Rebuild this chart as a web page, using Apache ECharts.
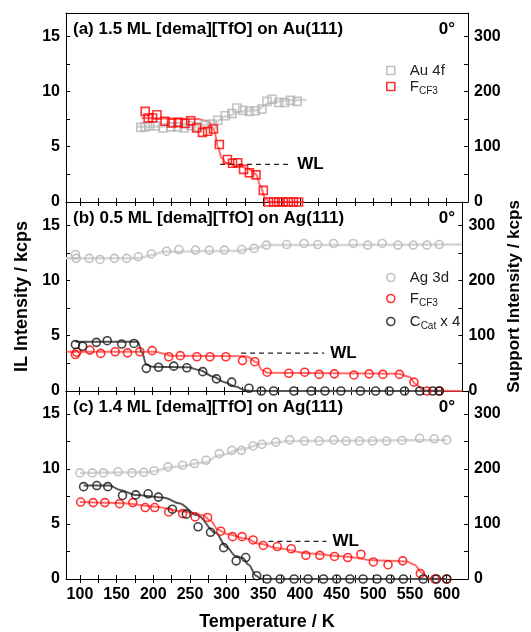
<!DOCTYPE html>
<html>
<head>
<meta charset="utf-8">
<script src="https://cdn.jsdelivr.net/npm/echarts@6/dist/echarts.min.js"></script>
<style>
html, body { margin: 0; padding: 0; background: #fff; }
#chart { width: 531px; height: 632px; }
</style>
</head>
<body>
<div id="chart"></div>
<script>
// ticks
var xTicks = [100, 125, 150, 175, 200, 225, 250, 275, 300, 325, 350, 375, 400, 425, 450, 475, 500, 525, 550, 575, 600];
var xLabels = [100, 150, 200, 250, 300, 350, 400, 450, 500, 550, 600];
var yTicks = [0, 2.5, 5, 7.5, 10, 12.5, 15];
var yLabels = [0, 5, 10, 15];
var rTicks = [0, 50, 100, 150, 200, 250, 300];
var rLabels = [0, 100, 200, 300];

// (a) 1.5 ML on Au(111)
var aAuT = [183, 189, 195, 203, 213, 224, 233, 242, 251, 260, 271, 280, 288, 298, 307, 314, 322, 331, 339, 348, 355, 362, 371, 379, 387, 396];
var aAuI = [135, 136, 138, 138, 134, 136, 136, 134, 138, 136, 140, 141, 148, 156, 160, 170, 166, 164, 165, 168, 182, 186, 180, 180, 184, 182];
var aAuFitT = [178, 260, 280, 300, 320, 340, 360, 380, 409];
var aAuFitI = [136, 137, 142, 155, 164, 166, 180, 184, 185];
var aFT = [189, 193, 199, 205, 216, 225, 234, 243, 251, 259, 267, 274, 282, 290, 301, 308, 315, 323, 331, 340, 350, 357, 364, 371, 377, 384, 391, 398];
var aFI = [8.2, 7.6, 7.6, 7.9, 7.3, 7.15, 7.2, 7.1, 7.35, 6.7, 6.3, 6.4, 6.6, 5.2, 3.85, 3.5, 3.55, 2.95, 2.65, 2.45, 1.05, 0, 0, 0, 0, 0, 0, 0];
var aFFitT = [184, 220, 260, 275, 283, 288, 293, 300, 315, 330, 340, 346, 352, 358, 406];
var aFFitI = [7.6, 7.55, 7.5, 7.3, 6.5, 5.0, 4.0, 3.5, 3.3, 3.0, 2.5, 1.5, 0.4, 0, 0];
var aWLT = [291, 388];
var aWLI = [3.4, 3.4];

// (b) 0.5 ML on Ag(111)
var bAgT = [94, 95, 113, 128, 148, 165, 181, 199, 220, 237, 260, 279, 300, 324, 341, 358, 386, 410, 429, 451, 478, 498, 518, 540, 561, 580, 597];
var bAgI = [247, 240, 240, 238, 240, 240, 243, 248, 253, 256, 255, 255, 255, 256, 258, 264, 265, 267, 265, 267, 267, 264, 267, 264, 264, 264, 265];
var bAgFitT = [81, 180, 200, 215, 320, 340, 360, 628];
var bAgFitI = [240, 240, 246, 252, 254, 258, 264, 265];
var bFT = [94, 96, 114, 129, 149, 166, 183, 200, 223, 239, 262, 280, 302, 325, 342, 359, 389, 411, 431, 452, 479, 500, 519, 542, 562, 580, 597];
var bFI = [3.3, 3.5, 3.7, 3.4, 3.55, 3.45, 3.55, 3.65, 3.1, 3.2, 3.1, 3.1, 3.1, 2.75, 2.65, 1.7, 1.6, 1.7, 1.5, 1.55, 1.45, 1.55, 1.5, 1.5, 0.8, 0, 0];
var bFFitT = [81, 205, 215, 225, 330, 345, 352, 360, 540, 555, 565, 575, 628];
var bFFitI = [3.55, 3.55, 3.4, 3.2, 3.15, 2.6, 1.9, 1.65, 1.55, 1.3, 0.6, 0.05, 0];
var bCT = [94, 104, 123, 138, 158, 175, 192, 209, 230, 248, 270, 289, 310, 334, 351, 368, 396, 420, 439, 461, 488, 509, 528, 549, 570, 588, 597];
var bCI = [4.2, 4.05, 4.4, 4.55, 4.25, 4.3, 2.05, 2.15, 2.25, 2.1, 1.75, 1.1, 0.8, 0.25, 0, 0, 0, 0, 0, 0, 0, 0, 0, 0, 0, 0, 0];
var bCFitT = [94, 180, 186, 192, 200, 250, 265, 285, 300, 315, 330, 340, 600];
var bCFitI = [4.45, 4.45, 3.5, 2.4, 2.2, 2.15, 1.9, 1.3, 0.8, 0.4, 0.05, 0, 0];
var bWLT = [323, 438];
var bWLI = [3.42, 3.42];

// (c) 1.4 ML on Ag(111)
var cAgT = [100, 117, 132, 152, 171, 187, 201, 220, 240, 256, 272, 290, 307, 320, 336, 348, 367, 386, 406, 426, 446, 463, 481, 499, 518, 539, 563, 583, 600];
var cAgI = [193, 193, 193, 195, 193, 194, 197, 204, 207, 210, 216, 228, 234, 234, 242, 245, 249, 253, 251, 251, 253, 251, 251, 251, 251, 252, 256, 255, 253];
var cAgFitT = [100, 190, 230, 270, 290, 320, 350, 390, 600];
var cAgFitI = [193, 194, 204, 212, 225, 236, 246, 251, 253];
var cCT = [105, 123, 138, 158, 176, 193, 207, 226, 245, 261, 278, 296, 313, 326, 341, 355, 373, 392, 411, 432, 450, 468, 486, 505, 523, 541, 568, 586, 600];
var cCI = [8.4, 8.5, 8.4, 7.6, 7.65, 7.75, 7.45, 6.35, 5.9, 4.75, 4.25, 2.85, 1.65, 1.95, 0.3, 0, 0, 0, 0, 0, 0, 0, 0, 0, 0, 0, 0, 0, 0];
var cCFitT = [105, 140, 155, 175, 215, 235, 260, 285, 300, 312, 322, 330, 340, 347, 600];
var cCFitI = [8.5, 8.5, 8.1, 7.65, 7.4, 6.9, 5.8, 4.2, 2.9, 2.1, 1.9, 1.3, 0.3, 0, 0];
var cFT = [101, 118, 134, 154, 172, 189, 202, 221, 240, 257, 274, 292, 308, 321, 336, 350, 369, 388, 408, 427, 447, 465, 483, 500, 520, 540, 564, 584, 600];
var cFI = [7.0, 6.95, 6.95, 6.85, 6.95, 6.5, 6.5, 6.1, 5.95, 5.65, 5.6, 4.35, 3.85, 3.85, 3.55, 3.05, 2.95, 2.75, 2.15, 2.15, 2.05, 1.95, 2.25, 1.55, 1.3, 1.65, 0.5, 0, 0];
var cFFitT = [100, 160, 200, 240, 268, 278, 288, 300, 325, 345, 370, 410, 460, 500, 545, 556, 566, 576, 600];
var cFFitI = [7.0, 6.9, 6.6, 6.15, 5.8, 5.3, 4.5, 4.1, 3.7, 3.2, 2.8, 2.35, 2.05, 1.7, 1.6, 1.3, 0.6, 0.05, 0];
var cWLT = [357, 436];
var cWLI = [3.43, 3.43];

var titles = ['(a) 1.5 ML [dema][TfO] on Au(111)', '(b) 0.5 ML [dema][TfO] on Ag(111)', '(c) 1.4 ML [dema][TfO] on Ag(111)'];

var RED = '#ff0000', GRAY = '#b4b4b4', BLACK = '#111111';
var FONT = '"Liberation Sans", Arial, sans-serif';
var gridTops = [13, 202, 391];
var gridHeights = [189, 189, 188];
var xMin = 81, xMax = 629, yMax = 17.1, rMax = 342;

function pts(xs, ys) {
    return xs.map(function (x, i) { return [x, ys[i]]; });
}

var grids = [], xAxes = [], yAxes = [];
gridTops.forEach(function (top, g) {
    grids.push({left: 66, right: 63, top: top, height: gridHeights[g]});
    var last = g === 2;
    xAxes.push({
        gridIndex: g, type: 'value', min: xMin, max: xMax, position: 'bottom',
        axisLine: {show: true, onZero: false, lineStyle: {color: '#000', width: 1}},
        axisTick: {show: true, inside: false, length: 4, customValues: xTicks, lineStyle: {color: '#000'}},
        axisLabel: {show: last, customValues: xLabels, color: '#000', fontFamily: FONT, fontWeight: 'bold', fontSize: 16, margin: 8},
        splitLine: {show: false},
        name: last ? 'Temperature / K' : '', nameLocation: 'middle', nameGap: 34,
        nameTextStyle: {color: '#000', fontFamily: FONT, fontWeight: 'bold', fontSize: 18}
    });
    xAxes.push({
        gridIndex: g, type: 'value', min: xMin, max: xMax, position: 'bottom',
        axisLine: {show: false},
        axisTick: {show: true, inside: true, length: 4, customValues: xTicks, lineStyle: {color: '#000'}},
        axisLabel: {show: false}, splitLine: {show: false}
    });
    xAxes.push({
        gridIndex: g, type: 'value', min: xMin, max: xMax, position: 'top',
        axisLine: {show: true, onZero: false, lineStyle: {color: '#000', width: 1}},
        axisTick: {show: false}, axisLabel: {show: false}, splitLine: {show: false}
    });
    yAxes.push({
        gridIndex: g, type: 'value', min: 0, max: yMax, position: 'left',
        axisLine: {show: true, onZero: false, lineStyle: {color: '#000', width: 1}},
        axisTick: {show: true, inside: true, length: 4, customValues: yTicks, lineStyle: {color: '#000'}},
        axisLabel: {customValues: yLabels, color: '#000', fontFamily: FONT, fontWeight: 'bold', fontSize: 16, margin: 6},
        splitLine: {show: false},
        name: g === 1 ? 'IL Intensity / kcps' : '', nameLocation: 'middle', nameGap: 28,
        nameTextStyle: {color: '#000', fontFamily: FONT, fontWeight: 'bold', fontSize: 18}
    });
    yAxes.push({
        gridIndex: g, type: 'value', min: 0, max: rMax, position: 'right',
        axisLine: {show: true, onZero: false, lineStyle: {color: '#000', width: 1}},
        axisTick: {show: true, inside: true, length: 4, customValues: rTicks, lineStyle: {color: '#000'}},
        axisLabel: {customValues: rLabels, color: '#000', fontFamily: FONT, fontWeight: 'bold', fontSize: 16, margin: 6},
        splitLine: {show: false},
        name: g === 1 ? 'Support Intensity / kcps' : '', nameLocation: 'middle', nameGap: 38,
        nameTextStyle: {color: '#000', fontFamily: FONT, fontWeight: 'bold', fontSize: 17}
    });
});

function marks(name, g, right, xs, ys, color, symbol) {
    return {
        name: name, type: 'scatter', xAxisIndex: g * 3, yAxisIndex: g * 2 + (right ? 1 : 0),
        data: pts(xs, ys), symbol: symbol, symbolSize: 8, z: 5,
        itemStyle: {color: 'rgba(0,0,0,0)', borderColor: color, borderWidth: 1.6},
        emphasis: {disabled: true}
    };
}
function fit(g, right, xs, ys, color, width) {
    return {
        type: 'line', xAxisIndex: g * 3, yAxisIndex: g * 2 + (right ? 1 : 0),
        data: pts(xs, ys), showSymbol: false, smooth: 0.35, smoothMonotone: 'x', z: 2,
        lineStyle: {color: color, width: width}, silent: true
    };
}
function wl(g, xs, ys) {
    return {
        type: 'line', xAxisIndex: g * 3, yAxisIndex: g * 2, data: pts(xs, ys), showSymbol: false, z: 3,
        lineStyle: {color: '#222', width: 1.2, type: [5, 4]}, silent: true,
        endLabel: {show: true, formatter: 'WL', color: '#000', fontFamily: FONT, fontWeight: 'bold', fontSize: 17, distance: 6}
    };
}

var series = [
    fit(0, true, aAuFitT, aAuFitI, '#d6d6d6', 2.5),
    fit(0, false, aFFitT, aFFitI, 'rgba(255,70,70,0.8)', 2),
    marks('Au 4f', 0, true, aAuT, aAuI, GRAY, 'rect'),
    marks('F_CF3 a', 0, false, aFT, aFI, RED, 'rect'),
    wl(0, aWLT, aWLI),

    fit(1, true, bAgFitT, bAgFitI, '#d6d6d6', 2.5),
    fit(1, false, bFFitT, bFFitI, 'rgba(255,70,70,0.8)', 2),
    fit(1, false, bCFitT, bCFitI, '#555555', 2),
    marks('Ag 3d', 1, true, bAgT, bAgI, GRAY, 'circle'),
    marks('F_CF3 b', 1, false, bFT, bFI, RED, 'circle'),
    marks('C_Cat x 4', 1, false, bCT, bCI, BLACK, 'circle'),
    wl(1, bWLT, bWLI),

    fit(2, true, cAgFitT, cAgFitI, '#d6d6d6', 2.5),
    fit(2, false, cFFitT, cFFitI, 'rgba(255,70,70,0.8)', 2),
    fit(2, false, cCFitT, cCFitI, '#555555', 2),
    marks('Ag 3d c', 2, true, cAgT, cAgI, GRAY, 'circle'),
    marks('F_CF3 c', 2, false, cFT, cFI, RED, 'circle'),
    marks('C_Cat c', 2, false, cCT, cCI, BLACK, 'circle'),
    wl(2, cWLT, cWLI)
];

function legendName(name) {
    if (name.indexOf('F_CF3') === 0) return '{m|F}{s|CF3}';
    if (name.indexOf('C_Cat') === 0) return '{m|C}{s|Cat}{m| x 4}';
    return '{m|' + name + '}';
}
var legendText = {
    color: '#222', fontFamily: FONT, padding: [0, 0, 0, 10],
    rich: {
        m: {fontSize: 15, fontFamily: FONT, color: '#222'},
        s: {fontSize: 10, fontFamily: FONT, color: '#222', padding: [9, 0, 0, 0]}
    }
};
function legendItem(name, color, icon) {
    return {name: name, icon: icon, itemStyle: {color: 'rgba(0,0,0,0)', borderColor: color, borderWidth: 1.6}};
}

var chart = echarts.init(document.getElementById('chart'), null, {renderer: 'canvas'});
chart.setOption({
    animation: false,
    backgroundColor: '#fff',
    title: titles.map(function (t, g) {
        return {text: t, left: 73, top: gridTops[g] + 8, padding: 0, textStyle: {color: '#000', fontFamily: FONT, fontWeight: 'bold', fontSize: 17}};
    }).concat(gridTops.map(function (top) {
        return {text: '0°', right: 76, top: top + 8, padding: 0, textStyle: {color: '#000', fontFamily: FONT, fontWeight: 'bold', fontSize: 17}};
    })),
    legend: [
        {
            left: 386, top: 63, orient: 'vertical', itemWidth: 8, itemHeight: 8, itemGap: 1, padding: 0,
            data: [legendItem('Au 4f', GRAY, 'rect'), legendItem('F_CF3 a', RED, 'rect')],
            formatter: legendName, textStyle: legendText, selectedMode: false
        },
        {
            left: 386, top: 270, orient: 'vertical', itemWidth: 8, itemHeight: 8, itemGap: 6, padding: 0,
            data: [legendItem('Ag 3d', GRAY, 'circle'), legendItem('F_CF3 b', RED, 'circle'), legendItem('C_Cat x 4', BLACK, 'circle')],
            formatter: legendName, textStyle: legendText, selectedMode: false
        }
    ],
    grid: grids,
    xAxis: xAxes,
    yAxis: yAxes,
    series: series
});
</script>
</body>
</html>
